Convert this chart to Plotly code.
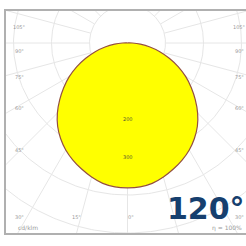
import numpy as np
import plotly.graph_objects as go

# ---- data (cd/klm vs gamma angle, symmetric distribution) ----
gamma_deg = [0, 5, 10, 15, 20, 25, 30, 35, 40, 45, 50, 55, 60, 65, 70, 75, 80, 85, 90, 95, 100]
intensity = [381, 380, 375, 365, 353, 340, 325, 307, 286, 261, 233, 205, 177, 147, 117, 88, 60, 34, 13, 3, 0]

ring_values = [100, 200, 300, 400, 500, 600, 700]
ring_labels = [200, 300]
spoke_angles = list(range(-180, 181, 15))

side_labels = ["105°", "90°", "75°", "60°", "45°"]
bottom_labels = ["30°", "15°", "0°", "15°", "30°"]
unit_label = "cd/klm"
eff_label = "η = 100%"
beam_label = "120°"

# ---- geometry of figure ----
W = H = 246
px_per_unit = 0.38
cx, cy = 127.5, 43.0  # pixel position of the luminaire centre
left_px, right_px, top_px, bot_px = 6, 246, 11, 233
xr = [(left_px - cx) / px_per_unit, (right_px - cx) / px_per_unit]
yr = [-(bot_px - cy) / px_per_unit, (cy - top_px) / px_per_unit]

def to_xy(angle_deg, r):
    a = np.radians(np.asarray(angle_deg, dtype=float))
    r = np.asarray(r, dtype=float)
    return r * np.sin(a), -r * np.cos(a)

fig = go.Figure()

grid_col = "#e6e6e6"
# rings
t = np.linspace(-180, 180, 361)
for rv in ring_values:
    gx, gy = to_xy(t, np.full_like(t, rv))
    fig.add_trace(go.Scatter(x=gx, y=gy, mode="lines", line=dict(color=grid_col, width=1),
                             hoverinfo="skip", showlegend=False))
# spokes (start at first ring)
for a in spoke_angles:
    sx, sy = to_xy([a, a], [ring_values[0], 2000])
    fig.add_trace(go.Scatter(x=sx, y=sy, mode="lines", line=dict(color=grid_col, width=1),
                             hoverinfo="skip", showlegend=False))

# photometric curve (mirror for left side)
full_ang = [-g for g in gamma_deg[::-1]] + gamma_deg[1:]
full_int = intensity[::-1] + intensity[1:]
px_, py_ = to_xy(full_ang, full_int)
fig.add_trace(go.Scatter(x=px_, y=py_, mode="lines", fill="toself",
                         fillcolor="#ffff00", line=dict(color="#94503f", width=1.2, shape="spline", smoothing=0.5),
                         hoverinfo="skip", showlegend=False))

ann = []
lab_font = dict(family="DejaVu Sans", size=5, color="#999999")
# radial labels
for rv in ring_labels:
    ann.append(dict(x=0, y=-rv, xref="x", yref="y", text=str(rv), showarrow=False,
                    font=dict(family="DejaVu Sans", size=5, color="#555533")))

def paper(xp, yp):
    return xp / W, 1 - yp / H

side_y = [18, 44, 73, 107, 154]
for txt, yp in zip(side_labels, side_y):
    for xp in (14, 239):
        xx, yy = paper(xp, yp)
        ann.append(dict(x=xx, y=yy, xref="paper", yref="paper", text=txt, showarrow=False,
                        font=lab_font, xanchor="center", yanchor="middle"))
bottom_x = [14, 72, 128, 181, 239]
for txt, xp in zip(bottom_labels, bottom_x):
    xx, yy = paper(xp, 228.5)
    ann.append(dict(x=xx, y=yy, xref="paper", yref="paper", text=txt, showarrow=False,
                    font=lab_font, xanchor="center", yanchor="middle"))

xx, yy = paper(10, 240)
ann.append(dict(x=xx, y=yy, xref="paper", yref="paper", text=unit_label, showarrow=False,
                font=dict(family="DejaVu Sans", size=6, color="#999999"), xanchor="left", yanchor="middle"))
xx, yy = paper(244, 240)
ann.append(dict(x=xx, y=yy, xref="paper", yref="paper", text=eff_label, showarrow=False,
                font=dict(family="DejaVu Sans", size=6, color="#999999"), xanchor="right", yanchor="middle"))
xx, yy = paper(205, 219)
ann.append(dict(x=xx, y=yy, xref="paper", yref="paper", text="<b>" + beam_label + "</b>", showarrow=False,
                font=dict(family="DejaVu Sans", size=30, color="#163f6e"), xanchor="center", yanchor="middle"))

fig.update_layout(
    width=W, height=H,
    margin=dict(l=left_px, r=W - right_px, t=top_px, b=H - bot_px),
    paper_bgcolor="white", plot_bgcolor="white",
    xaxis=dict(range=xr, showgrid=False, zeroline=False, showticklabels=False, ticks="",
               showline=True, linecolor="#b0b0b0", linewidth=1.5, mirror=True, fixedrange=True),
    yaxis=dict(range=yr, showgrid=False, zeroline=False, showticklabels=False, ticks="",
               showline=True, linecolor="#b0b0b0", linewidth=1.5, mirror=False, fixedrange=True),
    annotations=ann,
    showlegend=False,
)

fig.write_html("out.html", config={"displayModeBar": False},
               post_script="document.body.style.margin='0';document.body.style.overflow='hidden';")
